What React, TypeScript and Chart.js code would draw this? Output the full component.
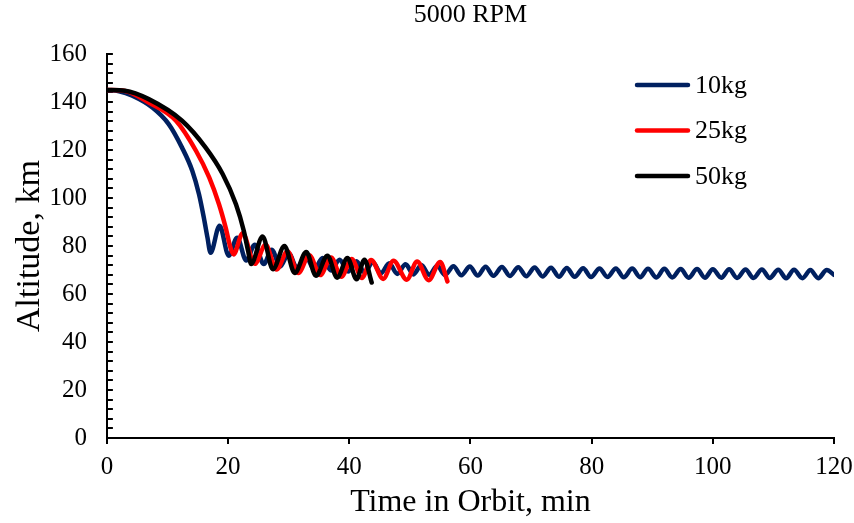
import React, { useEffect, useRef } from 'react';
import { Chart, registerables } from 'chart.js';

Chart.register(...registerables);

const chartTitle = '5000 RPM';
const xAxisTitle = 'Time in Orbit, min';
const yAxisTitle = 'Altitude, km';
const seriesLabels = ['10kg', '25kg', '50kg'];
const seriesColors = ['#002060', '#FF0000', '#000000'];
const xTickStep = 20;
const yMinorStep = 4;
const yMajorStep = 20;

const tenKgTime = [0, 2, 4.2, 7.5, 10.2, 12.4, 14.1, 15.2, 16.0, 16.6, 17.1,
  18.6, 20.1, 21.5, 23.0, 24.4, 25.9, 27.2, 28.6, 30.0, 31.4,
  32.8, 34.2, 35.6, 37.0, 38.4, 39.8, 41.2, 42.5, 43.9, 45.2,
  46.6, 47.9, 49.3, 50.6, 51.9, 53.2, 54.5, 55.8, 57.2, 58.5,
  59.9, 61.2, 62.5, 63.8, 65.2, 66.5, 67.9, 69.2, 70.6, 71.9,
  73.3, 74.6, 75.9, 77.2, 78.6, 79.9, 81.3, 82.6, 84.0, 85.3,
  86.7, 88.0, 89.3, 90.7, 92.0, 93.3, 94.7, 96.0, 97.4, 98.7,
  100.0, 101.4, 102.7, 104.0, 105.4, 106.7, 108.1, 109.4, 110.8, 112.1,
  113.4, 114.8, 116.1, 117.4, 118.8, 120];
const tenKgAlt = [145, 144.5, 142.6, 137.7, 130.8, 121, 111.3, 101.6, 91.8, 83.5, 77.2,
  88.5, 76, 83.5, 74, 80.5, 72.5, 78.5, 71.5, 77, 70.8,
  76, 70.2, 75, 69.8, 74.3, 69.4, 73.7, 69.0, 73.2, 68.7,
  72.8, 68.4, 72.4, 68.2, 72.1, 68.0, 71.8, 67.9, 71.6, 67.8,
  71.5, 67.7, 71.4, 67.6, 71.3, 67.5, 71.2, 67.4, 71.1, 67.3,
  71.0, 67.2, 70.9, 67.2, 70.8, 67.1, 70.7, 67.1, 70.7, 67.0,
  70.6, 67.0, 70.5, 66.9, 70.5, 66.9, 70.4, 66.8, 70.4, 66.8,
  70.3, 66.8, 70.3, 66.7, 70.2, 66.7, 70.2, 66.7, 70.1, 66.6,
  70.1, 66.6, 70.0, 66.6, 70.0, 68.0];

const twentyFiveKgTime = [0, 3, 6.9, 11.4, 14.7, 16.9, 18.5, 19.6, 20.4, 20.9,
  22.4, 24.4, 26.2, 28.0, 29.8, 31.6, 33.4, 35.2, 37.0, 38.7,
  40.4, 42.1, 43.6, 45.6, 47.3, 49.5, 51.2, 53.1, 55.0, 56.2];
const twentyFiveKgAlt = [145, 144.6, 139.8, 132.2, 119.7, 108.5, 97.4, 87.7, 79.3, 76.5,
  85.3, 72.6, 80.5, 70.2, 77.8, 68.8, 76.2, 67.9, 75.2, 67.2,
  74.6, 66.7, 74.2, 66.3, 73.9, 66.0, 73.6, 65.8, 73.4, 65.3];

const fiftyKgTime = [0, 3, 6.9, 12.4, 16.3, 19.1, 21.3, 22.6, 23.3, 23.8,
  25.7, 27.4, 29.3, 31.0, 32.9, 34.5, 36.4, 38.0, 39.7, 41.2, 42.5, 43.7];
const fiftyKgAlt = [145, 144.7, 141.2, 132.2, 121, 110, 97.4, 86.3, 78, 72.5,
  84, 70.3, 80, 68.8, 77.5, 67.6, 76, 66.8, 75, 66.2, 74.3, 64.8];

const seriesTimes = [tenKgTime, twentyFiveKgTime, fiftyKgTime];
const seriesAlts = [tenKgAlt, twentyFiveKgAlt, fiftyKgAlt];

const FONT = '"Liberation Serif", "Times New Roman", serif';

const insideLegend = {
  id: 'insideLegend',
  afterDatasetsDraw(chart: any) {
    const { ctx, chartArea } = chart;
    chart.data.datasets.forEach((ds: any, i: number) => {
      const y = chartArea.top + 31 + i * 45.5;
      const x0 = chartArea.right - 197;
      ctx.save();
      ctx.strokeStyle = ds.borderColor;
      ctx.lineWidth = 4.5;
      ctx.lineCap = 'round';
      ctx.beginPath();
      ctx.moveTo(x0, y);
      ctx.lineTo(x0 + 51, y);
      ctx.stroke();
      ctx.fillStyle = '#000';
      ctx.font = `26px ${FONT}`;
      ctx.textBaseline = 'middle';
      ctx.textAlign = 'left';
      ctx.fillText(ds.label, x0 + 58, y + 1);
      ctx.restore();
    });
  },
};

export default function App() {
  const canvasRef = useRef<HTMLCanvasElement | null>(null);

  useEffect(() => {
    const canvas = canvasRef.current;
    if (!canvas) return;
    const datasets = seriesLabels.map((label, i) => ({
      label,
      data: seriesTimes[i].map((t, j) => ({ x: t, y: seriesAlts[i][j] })),
      borderColor: seriesColors[i],
      backgroundColor: seriesColors[i],
      borderWidth: 4.5,
      pointRadius: 0,
      fill: false,
      cubicInterpolationMode: 'monotone' as const,
      borderCapStyle: 'round' as const,
      borderJoinStyle: 'round' as const,
      order: seriesLabels.length - 1 - i,
    }));

    const chart = new Chart(canvas, {
      type: 'line',
      data: { datasets },
      plugins: [insideLegend],
      options: {
        responsive: false,
        animation: false,
        layout: { padding: { left: 4, top: 0, right: 0, bottom: 1.5 } },
        scales: {
          x: {
            type: 'linear',
            min: 0,
            max: 120,
            afterFit: (scale: any) => {
              scale.paddingRight = 20;
            },
            ticks: {
              stepSize: xTickStep,
              color: '#000',
              font: { family: FONT, size: 25 },
              padding: 8,
              maxRotation: 0,
            },
            grid: { drawOnChartArea: false, color: '#000', lineWidth: 2, tickLength: 6 },
            border: { color: '#000', width: 2 },
            title: {
              display: true,
              text: xAxisTitle,
              color: '#000',
              font: { family: FONT, size: 32 },
              padding: { top: -7, bottom: 0 },
            },
          },
          y: {
            type: 'linear',
            min: 0,
            max: 160,
            ticks: {
              stepSize: yMinorStep,
              autoSkip: false,
              color: '#000',
              font: { family: FONT, size: 25 },
              padding: 26,
              callback: (v: any) => (Math.round(Number(v)) % yMajorStep === 0 ? String(Math.round(Number(v))) : ''),
            },
            grid: { drawOnChartArea: false, color: '#000', lineWidth: 2, tickLength: -6 },
            border: { color: '#000', width: 2 },
            title: {
              display: true,
              text: yAxisTitle,
              color: '#000',
              font: { family: FONT, size: 34 },
              padding: { top: 5.6, bottom: -27 },
            },
          },
        },
        plugins: {
          legend: { display: false },
          tooltip: { enabled: false },
          title: {
            display: true,
            text: chartTitle,
            color: '#000',
            fullSize: false,
            font: { family: FONT, size: 26, weight: 'normal' },
            padding: { top: 0, bottom: 22.8 },
          },
        },
      },
    });
    return () => chart.destroy();
  }, []);

  return (
    <div style={{ position: 'absolute', left: 0, top: 0, width: 854, height: 523, background: '#fff' }}>
      <canvas ref={canvasRef} width={854} height={523} style={{ display: 'block' }} />
    </div>
  );
}
